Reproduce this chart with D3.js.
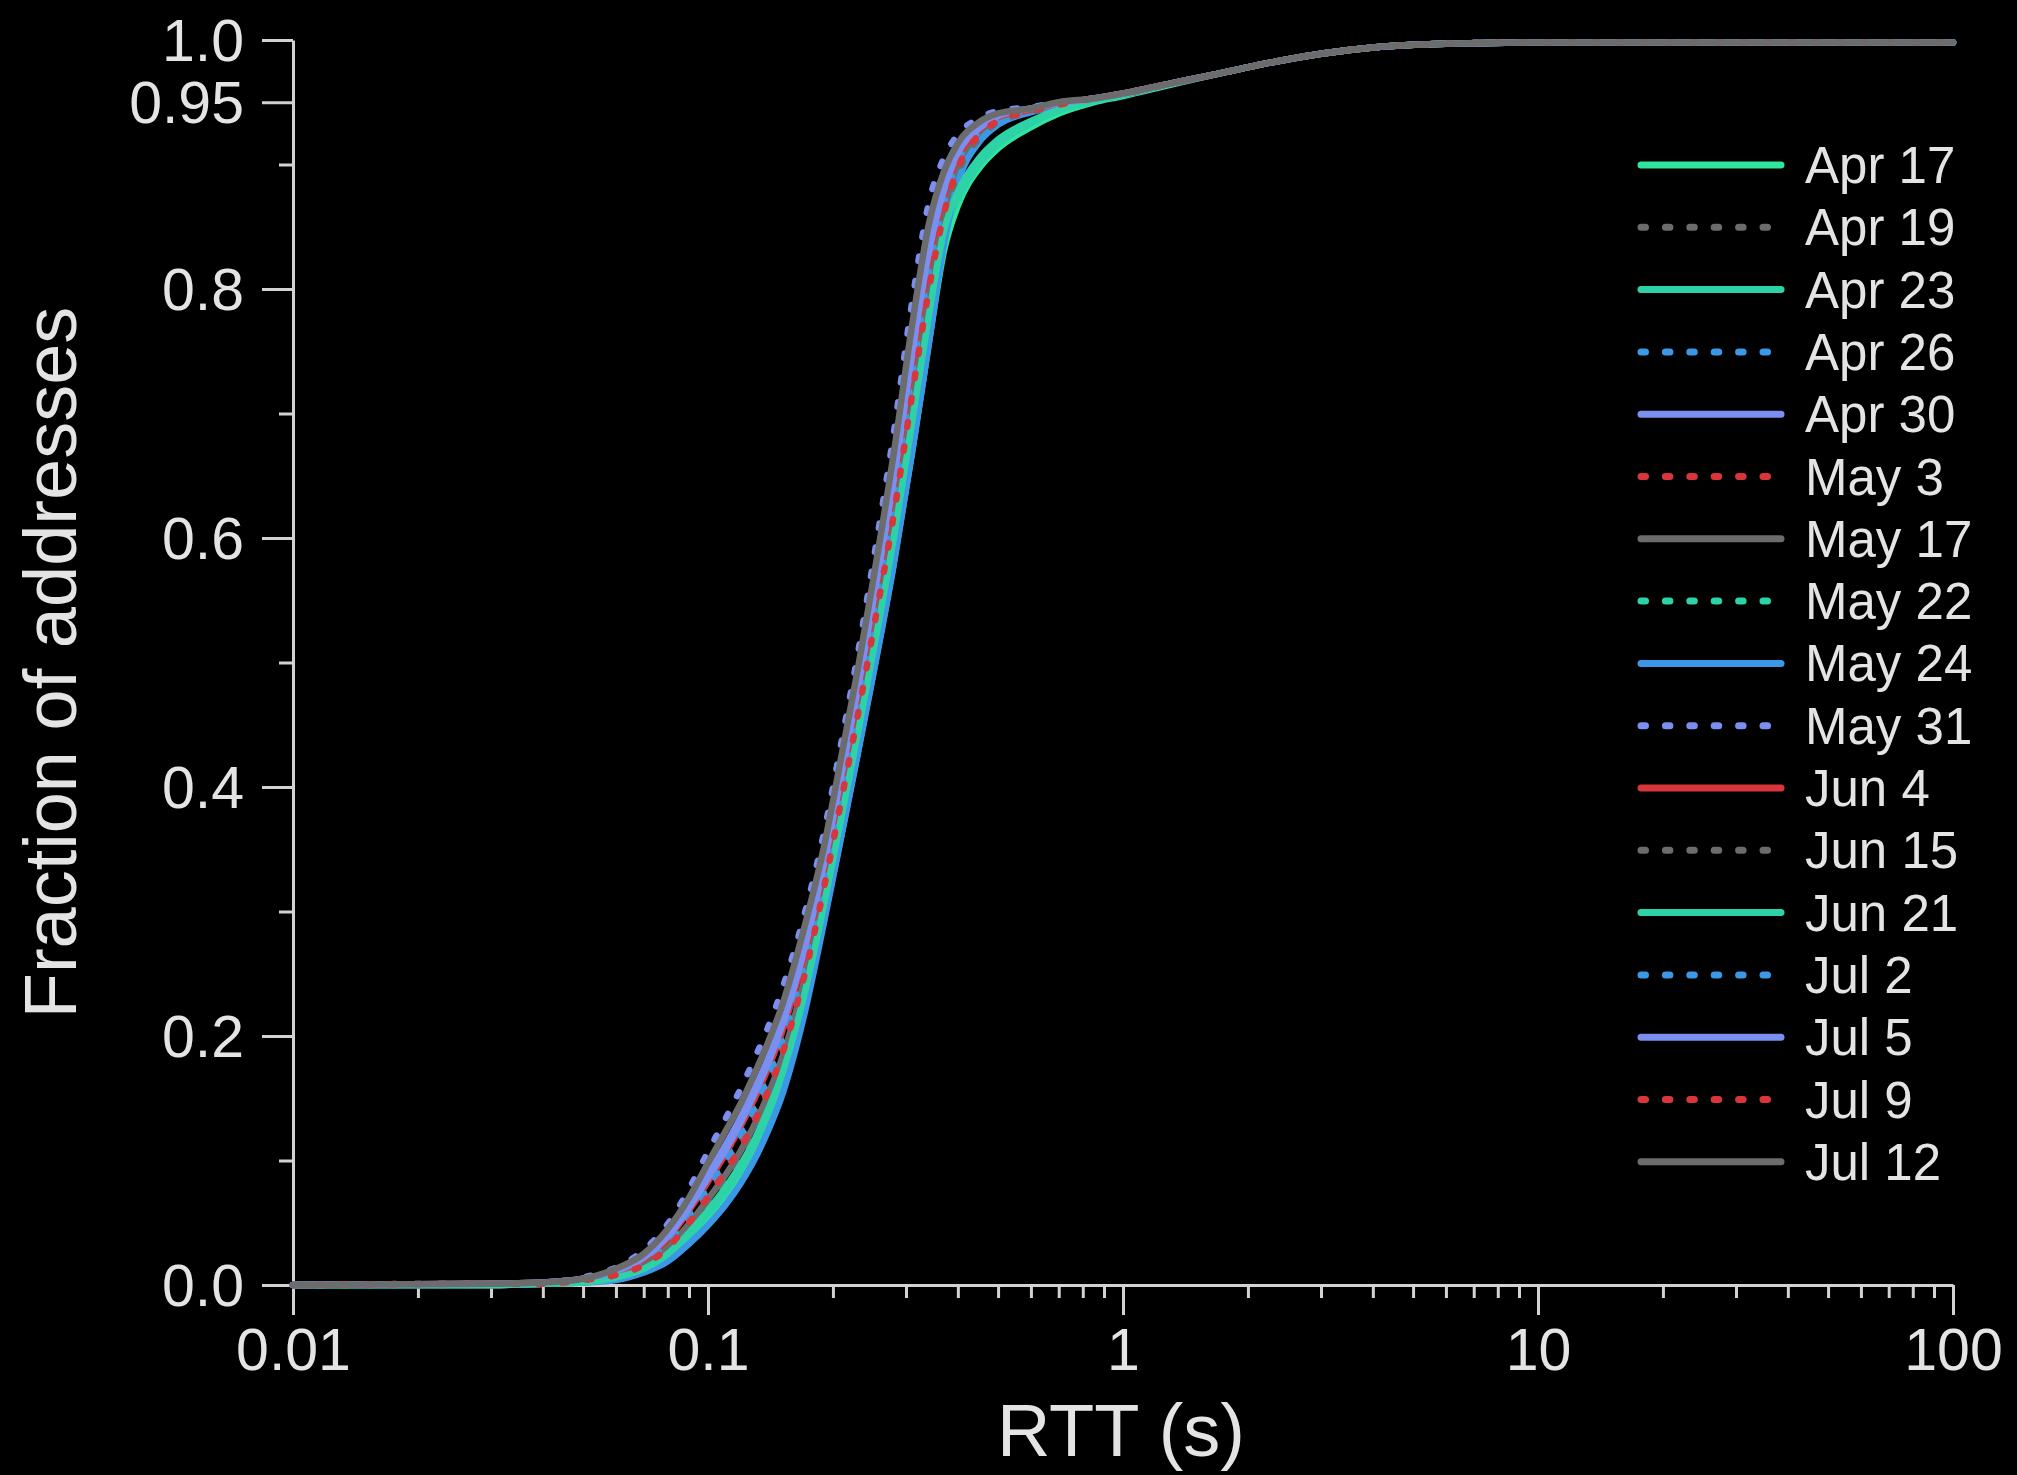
<!DOCTYPE html>
<html>
<head>
<meta charset="utf-8">
<script src="https://cdn.jsdelivr.net/npm/d3@7"></script>
<style>
  html, body { margin: 0; padding: 0; background: #000; }
  svg { display: block; }
  text { font-family: "Liberation Sans", Arial, Helvetica, sans-serif; fill: #e4e4e4; }
</style>
</head>
<body>
<svg id="chart" width="2017" height="1475"></svg>
<script>
// RTT sample points (seconds) shared by every CDF curve
const rtt = [0.01, 0.03, 0.04, 0.05, 0.06, 0.07, 0.08, 0.09, 0.10, 0.11, 0.12, 0.13, 0.14, 0.15,
  0.17, 0.19, 0.21, 0.23, 0.25, 0.28, 0.31, 0.34, 0.37, 0.40, 0.45, 0.50, 0.60, 0.70, 0.85,
  1.0, 1.3, 1.7, 2.2, 3.0, 4.0, 6.0, 10, 100];

// Cumulative fraction of addresses at each RTT, one array per measurement day
const apr17 = [0, 0, 0.001, 0.003, 0.005, 0.011, 0.021, 0.036, 0.052, 0.068, 0.086, 0.106, 0.129, 0.154, 0.219, 0.292, 0.363, 0.429, 0.491, 0.579, 0.668, 0.755, 0.830, 0.867, 0.897, 0.913, 0.930, 0.941, 0.950, 0.955, 0.964, 0.973, 0.981, 0.989, 0.994, 0.997, 0.998, 0.998];
const apr19 = [0, 0, 0.001, 0.003, 0.0065, 0.0145, 0.027, 0.044, 0.063, 0.081, 0.101, 0.122, 0.146, 0.171, 0.235, 0.308, 0.381, 0.448, 0.513, 0.604, 0.698, 0.783, 0.850, 0.891, 0.920, 0.933, 0.942, 0.948, 0.952, 0.956, 0.965, 0.973, 0.981, 0.989, 0.994, 0.997, 0.998, 0.998];
const apr23 = [0, 0, 0.001, 0.002, 0.0055, 0.013, 0.024, 0.040, 0.057, 0.074, 0.093, 0.114, 0.138, 0.163, 0.227, 0.301, 0.373, 0.440, 0.503, 0.594, 0.686, 0.772, 0.842, 0.872, 0.900, 0.916, 0.933, 0.943, 0.951, 0.956, 0.965, 0.973, 0.981, 0.989, 0.994, 0.997, 0.998, 0.998];
const apr26 = [0, 0.001, 0.001, 0.004, 0.008, 0.017, 0.031, 0.051, 0.072, 0.092, 0.112, 0.134, 0.158, 0.184, 0.247, 0.319, 0.392, 0.460, 0.526, 0.620, 0.716, 0.800, 0.861, 0.898, 0.924, 0.935, 0.943, 0.948, 0.953, 0.957, 0.965, 0.973, 0.981, 0.989, 0.994, 0.997, 0.998, 0.998];
const apr30 = [0, 0.001, 0.002, 0.005, 0.011, 0.023, 0.040, 0.064, 0.089, 0.112, 0.135, 0.159, 0.183, 0.210, 0.271, 0.340, 0.415, 0.484, 0.553, 0.651, 0.752, 0.834, 0.883, 0.911, 0.930, 0.939, 0.945, 0.949, 0.953, 0.957, 0.965, 0.973, 0.981, 0.989, 0.994, 0.997, 0.998, 0.998];
const may3  = [0, 0.001, 0.002, 0.004, 0.009, 0.018, 0.033, 0.053, 0.075, 0.096, 0.117, 0.139, 0.163, 0.189, 0.251, 0.323, 0.396, 0.464, 0.531, 0.626, 0.722, 0.806, 0.865, 0.900, 0.925, 0.936, 0.944, 0.948, 0.953, 0.957, 0.965, 0.973, 0.981, 0.989, 0.994, 0.997, 0.998, 0.998];
const may17 = [0, 0, 0.001, 0.003, 0.0075, 0.016, 0.030, 0.049, 0.069, 0.088, 0.108, 0.130, 0.154, 0.180, 0.243, 0.315, 0.388, 0.456, 0.522, 0.615, 0.710, 0.794, 0.858, 0.896, 0.923, 0.935, 0.943, 0.948, 0.953, 0.956, 0.965, 0.973, 0.981, 0.989, 0.994, 0.997, 0.998, 0.998];
const may22 = [0, 0.001, 0.002, 0.005, 0.010, 0.020, 0.035, 0.057, 0.080, 0.102, 0.124, 0.147, 0.171, 0.197, 0.259, 0.330, 0.403, 0.472, 0.540, 0.636, 0.734, 0.817, 0.872, 0.904, 0.927, 0.937, 0.944, 0.949, 0.953, 0.957, 0.965, 0.973, 0.981, 0.989, 0.994, 0.997, 0.998, 0.998];
const may24 = [0, 0, 0.001, 0.002, 0.004, 0.010, 0.019, 0.033, 0.048, 0.064, 0.082, 0.102, 0.125, 0.150, 0.215, 0.290, 0.362, 0.428, 0.490, 0.578, 0.668, 0.755, 0.835, 0.885, 0.918, 0.932, 0.942, 0.947, 0.952, 0.956, 0.965, 0.973, 0.981, 0.989, 0.994, 0.997, 0.998, 0.998];
const may31 = [0, 0.001, 0.002, 0.006, 0.014, 0.028, 0.049, 0.077, 0.107, 0.133, 0.158, 0.183, 0.208, 0.235, 0.295, 0.362, 0.437, 0.508, 0.580, 0.683, 0.788, 0.868, 0.905, 0.924, 0.937, 0.943, 0.946, 0.950, 0.953, 0.957, 0.965, 0.973, 0.981, 0.989, 0.994, 0.997, 0.998, 0.998];
const jun4  = [0, 0.001, 0.002, 0.005, 0.010, 0.021, 0.037, 0.060, 0.083, 0.105, 0.128, 0.151, 0.175, 0.201, 0.263, 0.333, 0.407, 0.476, 0.544, 0.641, 0.740, 0.822, 0.875, 0.906, 0.928, 0.938, 0.944, 0.949, 0.953, 0.957, 0.965, 0.973, 0.981, 0.989, 0.994, 0.997, 0.998, 0.998];
const jun15 = [0, 0, 0.001, 0.003, 0.007, 0.015, 0.028, 0.046, 0.066, 0.085, 0.105, 0.126, 0.150, 0.176, 0.239, 0.311, 0.384, 0.452, 0.518, 0.610, 0.704, 0.789, 0.854, 0.893, 0.921, 0.934, 0.942, 0.948, 0.952, 0.956, 0.965, 0.973, 0.981, 0.989, 0.994, 0.997, 0.998, 0.998];
const jun21 = [0, 0, 0.001, 0.002, 0.006, 0.013, 0.025, 0.042, 0.060, 0.078, 0.097, 0.118, 0.142, 0.167, 0.231, 0.304, 0.377, 0.444, 0.508, 0.599, 0.692, 0.777, 0.846, 0.878, 0.905, 0.920, 0.935, 0.944, 0.951, 0.956, 0.965, 0.973, 0.981, 0.989, 0.994, 0.997, 0.998, 0.998];
const jul2  = [0, 0.001, 0.002, 0.004, 0.009, 0.019, 0.034, 0.055, 0.078, 0.099, 0.120, 0.143, 0.167, 0.193, 0.255, 0.326, 0.400, 0.468, 0.535, 0.630, 0.728, 0.812, 0.868, 0.902, 0.926, 0.936, 0.944, 0.949, 0.953, 0.957, 0.965, 0.973, 0.981, 0.989, 0.994, 0.997, 0.998, 0.998];
const jul5  = [0, 0.001, 0.002, 0.005, 0.011, 0.022, 0.039, 0.062, 0.086, 0.108, 0.131, 0.155, 0.179, 0.206, 0.267, 0.337, 0.411, 0.480, 0.549, 0.646, 0.746, 0.828, 0.879, 0.909, 0.929, 0.939, 0.945, 0.949, 0.953, 0.957, 0.965, 0.973, 0.981, 0.989, 0.994, 0.997, 0.998, 0.998];
const jul9  = [0, 0.001, 0.001, 0.004, 0.008, 0.016, 0.030, 0.050, 0.071, 0.091, 0.111, 0.133, 0.157, 0.183, 0.246, 0.318, 0.391, 0.459, 0.525, 0.618, 0.714, 0.798, 0.860, 0.897, 0.924, 0.935, 0.943, 0.948, 0.953, 0.957, 0.965, 0.973, 0.981, 0.989, 0.994, 0.997, 0.998, 0.998];
const jul12 = [0, 0.001, 0.002, 0.005, 0.013, 0.025, 0.045, 0.070, 0.098, 0.123, 0.146, 0.171, 0.196, 0.222, 0.285, 0.351, 0.426, 0.496, 0.566, 0.667, 0.770, 0.851, 0.894, 0.917, 0.934, 0.941, 0.945, 0.950, 0.953, 0.957, 0.965, 0.973, 0.981, 0.989, 0.994, 0.997, 0.998, 0.998];

// Legend labels in drawing order, and the arrays they belong to
const dayLabels = ["Apr 17", "Apr 19", "Apr 23", "Apr 26", "Apr 30", "May 3", "May 17", "May 22",
  "May 24", "May 31", "Jun 4", "Jun 15", "Jun 21", "Jul 2", "Jul 5", "Jul 9", "Jul 12"];
const dayValues = [apr17, apr19, apr23, apr26, apr30, may3, may17, may22,
  may24, may31, jun4, jun15, jun21, jul2, jul5, jul9, jul12];

// Axis ticks
const xMajorTicks = [0.01, 0.1, 1, 10, 100];
const xTickLabels = ["0.01", "0.1", "1", "10", "100"];
const yMajorTicks = [0, 0.2, 0.4, 0.6, 0.8, 0.95, 1.0];
const yTickLabels = ["0.0", "0.2", "0.4", "0.6", "0.8", "0.95", "1.0"];
const yMinorTicks = [0.1, 0.3, 0.5, 0.7, 0.9];

// Line styles per series
const GREEN = "#2fe69e", GRAY = "#6c6c6c", TEAL = "#2dd3a6", BLUE = "#3b98e6",
      PERI = "#7b8ff1", RED = "#d8363a";
const lineColors = [GREEN, GRAY, TEAL, BLUE, PERI, RED, GRAY, TEAL, BLUE, PERI, RED, GRAY, TEAL, BLUE, PERI, RED, GRAY];
const lineDotted = [false, true, false, true, false, true, false, true, false, true, false, true, false, true, false, true, false];

// Layout
const W = 2017, H = 1475;
const plot = { left: 293, right: 1953, top: 40, bottom: 1285 };
const axisColor = "#d2d2d2";

const svg = d3.select("#chart");
svg.append("rect").attr("width", W).attr("height", H).attr("fill", "#000");

const x = d3.scaleLog().domain([0.01, 100]).range([plot.left, plot.right]);
const y = d3.scaleLinear().domain([0, 1]).range([plot.bottom, plot.top]);

// Minor x ticks: 2..9 within each decade
const xMinorTicks = [];
for (let d = 0.01; d < 100; d *= 10) {
  for (let k = 2; k <= 9; k++) xMinorTicks.push(+(d * k).toPrecision(3));
}

function styleAxis(g) {
  g.selectAll("path.domain").attr("stroke", axisColor).attr("stroke-width", 3);
  g.selectAll(".tick line").attr("stroke", axisColor).attr("stroke-width", 3);
}

// X axis
const xAxisG = svg.append("g").attr("transform", `translate(0,${plot.bottom})`);
xAxisG.call(d3.axisBottom(x).tickValues(xMinorTicks).tickSize(13).tickSizeOuter(0).tickFormat(""))
  .call(styleAxis);
const xMajorG = svg.append("g").attr("transform", `translate(0,${plot.bottom})`);
xMajorG.call(d3.axisBottom(x).tickValues(xMajorTicks).tickSize(30).tickSizeOuter(0)
    .tickFormat((d, i) => xTickLabels[i]))
  .call(styleAxis);
xMajorG.select("path.domain").remove();
xMajorG.selectAll(".tick text")
  .attr("y", 85).attr("dy", 0)
  .style("font-size", "59px")
  .style("font-family", "'Liberation Sans', Arial, sans-serif")
  .attr("fill", "#e4e4e4");

// Y axis
const yAxisG = svg.append("g").attr("transform", `translate(${plot.left},0)`);
yAxisG.call(d3.axisLeft(y).tickValues(yMinorTicks).tickSize(14).tickSizeOuter(0).tickFormat(""))
  .call(styleAxis);
const yMajorG = svg.append("g").attr("transform", `translate(${plot.left},0)`);
yMajorG.call(d3.axisLeft(y).tickValues(yMajorTicks).tickSize(31).tickSizeOuter(0)
    .tickFormat((d, i) => yTickLabels[i]))
  .call(styleAxis);
yMajorG.select("path.domain").remove();
yMajorG.selectAll(".tick text")
  .attr("x", -49).attr("dy", "0.34em")
  .style("font-size", "59px")
  .style("font-family", "'Liberation Sans', Arial, sans-serif")
  .attr("fill", "#e4e4e4");

// Axis titles
svg.append("text")
  .attr("transform", `translate(76,${(plot.top + plot.bottom) / 2}) rotate(-90)`)
  .attr("text-anchor", "middle")
  .style("font-size", "74px")
  .text("Fraction of addresses");
svg.append("text")
  .attr("x", (plot.left + plot.right) / 2 - 2)
  .attr("y", 1456)
  .attr("text-anchor", "middle")
  .style("font-size", "74px")
  .text("RTT (s)");

// CDF curves
const line = d3.line()
  .x(d => x(d[0]))
  .y(d => y(d[1]))
  .curve(d3.curveMonotoneX);

const curves = svg.append("g");
dayValues.forEach((vals, i) => {
  const pts = rtt.map((r, j) => [r, vals[j]]);
  curves.append("path")
    .datum(pts)
    .attr("d", line)
    .attr("fill", "none")
    .attr("stroke", lineColors[i])
    .attr("stroke-width", 6.5)
    .attr("stroke-linecap", "round")
    .attr("stroke-linejoin", "round")
    .attr("stroke-dasharray", lineDotted[i] ? "4.5 20" : null);
});

// Legend
const legend = svg.append("g");
const legendTop = 165, legendStep = 62.3;
dayLabels.forEach((label, i) => {
  const ly = legendTop + i * legendStep;
  legend.append("line")
    .attr("x1", 1641).attr("x2", 1781)
    .attr("y1", ly).attr("y2", ly)
    .attr("stroke", lineColors[i])
    .attr("stroke-width", 7)
    .attr("stroke-linecap", "round")
    .attr("stroke-dasharray", lineDotted[i] ? "4.5 19.9" : null);
  legend.append("text")
    .attr("x", 1805)
    .attr("y", ly + 18)
    .style("font-size", "51px")
    .text(label);
});
</script>
</body>
</html>
